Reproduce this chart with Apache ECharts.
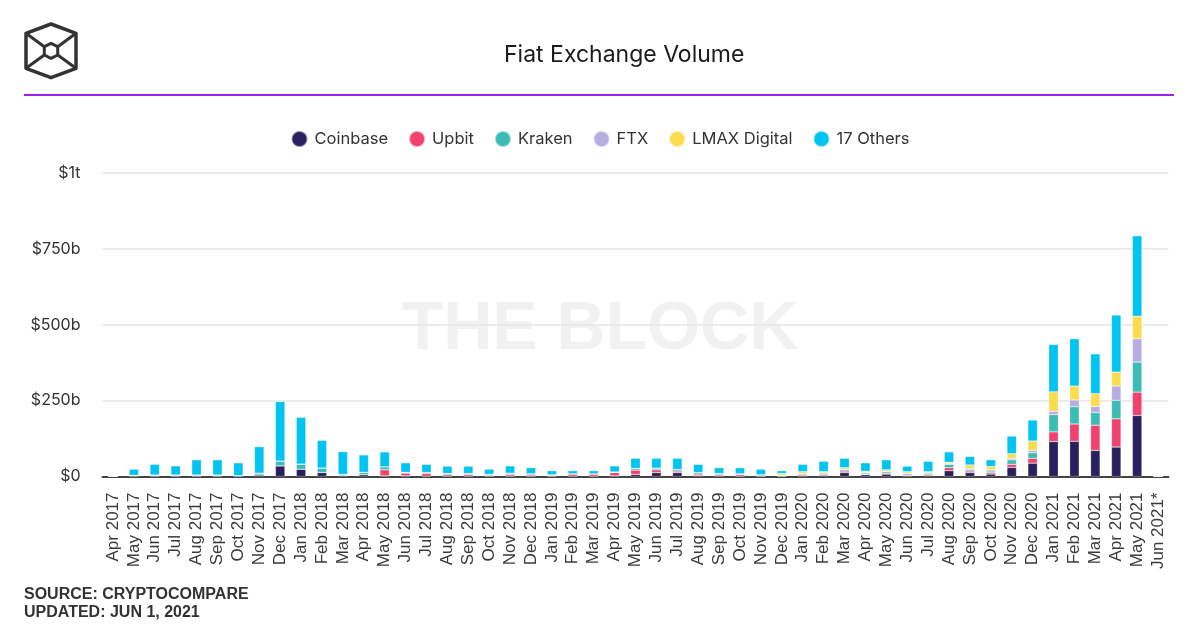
<!DOCTYPE html>
<html>
<head>
<meta charset="utf-8">
<script src="https://cdn.jsdelivr.net/npm/echarts@6/dist/echarts.min.js"></script>
<style>
  html, body { margin: 0; padding: 0; background: #fff; }
  #chart { width: 1200px; height: 630px; }
</style>
</head>
<body>
<div id="chart"></div>
<script>
// Categories (months)
const months = [
  'Apr 2017','May 2017','Jun 2017','Jul 2017','Aug 2017','Sep 2017','Oct 2017','Nov 2017','Dec 2017',
  'Jan 2018','Feb 2018','Mar 2018','Apr 2018','May 2018','Jun 2018','Jul 2018','Aug 2018','Sep 2018','Oct 2018','Nov 2018','Dec 2018',
  'Jan 2019','Feb 2019','Mar 2019','Apr 2019','May 2019','Jun 2019','Jul 2019','Aug 2019','Sep 2019','Oct 2019','Nov 2019','Dec 2019',
  'Jan 2020','Feb 2020','Mar 2020','Apr 2020','May 2020','Jun 2020','Jul 2020','Aug 2020','Sep 2020','Oct 2020','Nov 2020','Dec 2020',
  'Jan 2021','Feb 2021','Mar 2021','Apr 2021','May 2021','Jun 2021*'
];

// Series values, billions USD
const coinbase = [0,2,2,2,2,2,2,5,35,24,13,3,6,2,2,1,1,1,1,1,1,1,1,1,2,7,13,13,3,2,1,1,1,2,4,13,6,8,2,4,19,13,8,30,44,115,116,86,97,201,0];
const upbit    = [0,0,0,0,0,0,0,0,0,0,0,0,0,20,9,9,5,5,3,5,4,2,7,7,11,14,9,5,5,4,5,1,1,4,3,5,2,3,3,3,10,5,5,10,16,32,57,83,93,77,0];
const kraken   = [0,2,3,3,3,3,1,6,16,17,15,4,8,10,3,3,4,4,3,5,4,3,1,1,2,6,6,5,5,4,3,4,2,4,4,5,4,5,5,4,11,5,5,15,18,57,57,42,61,99,0];
const ftx      = [0,0,0,0,0,0,0,0,0,0,0,0,0,0,0,0,0,0,0,0,0,0,0,0,0,0,0,0,0,0,0,0,0,0,1,1,1,1,1,1,2,4,4,5,8,11,22,20,47,77,0];
const lmax     = [0,0,0,0,0,0,0,0,0,0,0,0,0,0,0,0,0,0,0,0,0,0,0,0,0,0,0,0,0,0,0,0,6,6,4,5,4,5,5,4,5,11,11,15,31,64,46,42,46,74,2];
const others   = [0,20,35,30,50,50,42,87,196,154,91,75,57,49,31,27,24,24,17,24,20,13,10,10,20,33,32,37,27,19,20,18,9,24,34,31,28,33,18,34,34,28,22,58,69,156,156,131,188,265,0];

// Y tick labels
const yTickValues = [0, 250, 500, 750, 1000];
const yTickLabels = ['$0', '$250b', '$500b', '$750b', '$1t'];

const seriesNames = ['Coinbase', 'Upbit', 'Kraken', 'FTX', 'LMAX Digital', '17 Others'];
const seriesData = [coinbase, upbit, kraken, ftx, lmax, others];
const colors = ['#2a205e', '#ef426f', '#3cbcb4', '#b6aee0', '#fcdc4f', '#00c4f0'];

const chart = echarts.init(document.getElementById('chart'), null, { renderer: 'canvas' });

const geo = 'Inter, "Noto Sans", sans-serif';
const arial = '"Liberation Sans", Arial, sans-serif';

const option = {
  animation: false,
  backgroundColor: '#ffffff',
  color: colors,
  title: {
    text: 'Fiat Exchange Volume',
    left: 499,
    top: 39,
    textStyle: { fontFamily: geo, fontSize: 23, fontWeight: 'normal', color: '#1a1a1a' }
  },
  legend: {
    top: 125,
    left: 'center',
    icon: 'circle',
    itemWidth: 16,
    itemHeight: 16,
    itemGap: 20,
    textStyle: { fontFamily: geo, fontSize: 16.5, color: '#333', padding: [0, 0, 0, 2] },
    data: seriesNames
  },
  grid: { left: 102.5, right: 31.5, top: 173, bottom: 153.5, containLabel: false },
  xAxis: {
    type: 'category',
    data: months,
    boundaryGap: true,
    axisLine: { show: true, lineStyle: { color: '#444', width: 2 } },
    axisTick: { show: false },
    axisLabel: {
      rotate: 90,
      interval: 0,
      margin: 16,
      fontFamily: arial,
      fontSize: 17,
      color: '#3a3a3a'
    }
  },
  yAxis: {
    type: 'value',
    min: 0,
    max: 1000,
    interval: 250,
    axisLine: { show: false },
    axisTick: { show: false },
    splitLine: { lineStyle: { color: '#e6e6e6', width: 1.5 } },
    axisLabel: {
      margin: 22,
      fontFamily: geo,
      fontSize: 16,
      color: '#333',
      padding: [7, 0, 0, 0],
      formatter: function (v) {
        const i = yTickValues.indexOf(v);
        return i >= 0 ? yTickLabels[i] : '';
      }
    }
  },
  graphic: [
    {
      type: 'text', z: -10, left: 'center', top: 296,
      style: { text: 'THE BLOCK', font: 'bold 68px "Liberation Sans", Arial, sans-serif', fill: '#f1f1f1' }
    },
    {
      type: 'line', shape: { x1: 24, y1: 95, x2: 1174, y2: 95 },
      style: { stroke: '#a020f0', lineWidth: 2 }
    },
    {
      type: 'polygon',
      shape: { points: [[51,24],[76,33.3],[76,68.3],[51,77.7],[26,68.3],[26,33.3]] },
      style: { fill: 'none', stroke: '#333', lineWidth: 3.5, lineJoin: 'round' }
    },
    {
      type: 'polygon',
      shape: { points: [[51,43.3],[57.7,46.7],[57.7,55],[51,58.3],[44.3,55],[44.3,46.7]] },
      style: { fill: 'none', stroke: '#333', lineWidth: 3, lineJoin: 'round' }
    },
    { type: 'line', shape: { x1: 26, y1: 33.3, x2: 44.3, y2: 46.7 }, style: { stroke: '#333', lineWidth: 3 } },
    { type: 'line', shape: { x1: 76, y1: 33.3, x2: 57.7, y2: 46.7 }, style: { stroke: '#333', lineWidth: 3 } },
    { type: 'line', shape: { x1: 26, y1: 68.3, x2: 44.3, y2: 55 }, style: { stroke: '#333', lineWidth: 3 } },
    { type: 'line', shape: { x1: 76, y1: 68.3, x2: 57.7, y2: 55 }, style: { stroke: '#333', lineWidth: 3 } },
    {
      type: 'text', left: 24, top: 587,
      style: { text: 'SOURCE: CRYPTOCOMPARE', font: 'bold 16px "Liberation Sans", Arial, sans-serif', fill: '#333' }
    },
    {
      type: 'text', left: 24, top: 605,
      style: { text: 'UPDATED: JUN 1, 2021', font: 'bold 16px "Liberation Sans", Arial, sans-serif', fill: '#333' }
    }
  ],
  series: seriesNames.map(function (name, k) {
    return {
      name: name,
      type: 'bar',
      stack: 'total',
      barWidth: 9.5,
      data: seriesData[k],
      itemStyle: { color: colors[k], borderColor: 'rgba(255,255,255,0.5)', borderWidth: 0.5 },
      emphasis: { disabled: true }
    };
  })
};

chart.setOption(option);
</script>
</body>
</html>
